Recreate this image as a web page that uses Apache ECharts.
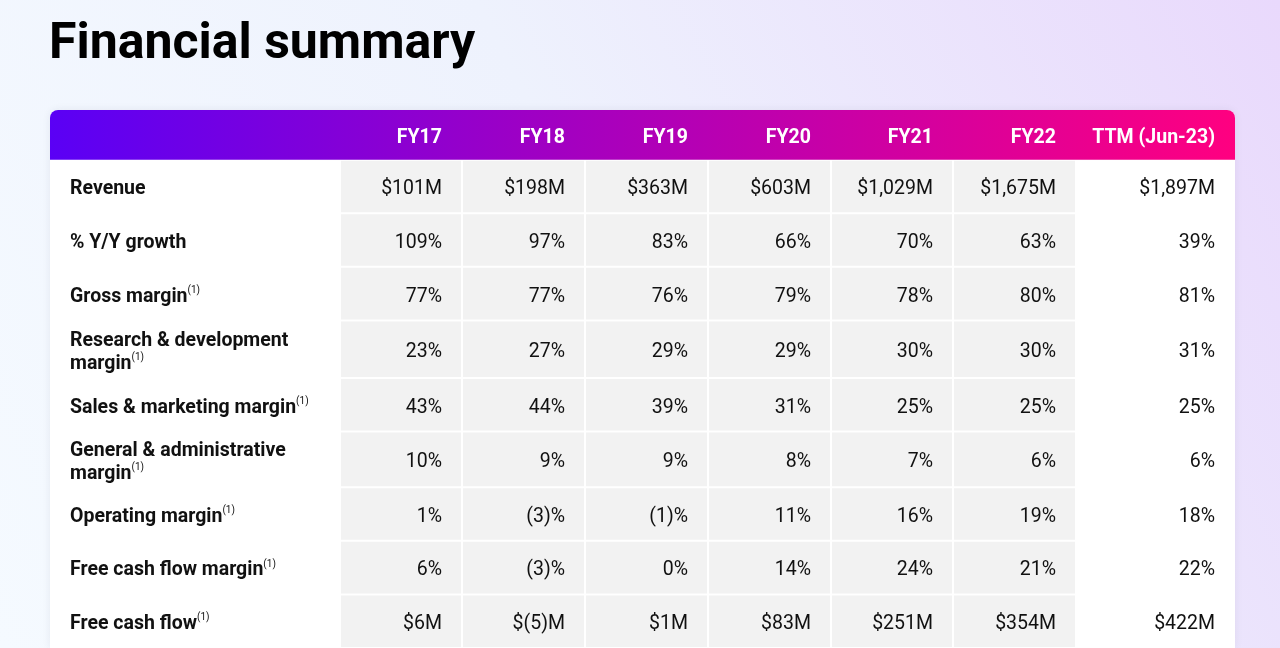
<!DOCTYPE html>
<html>
<head>
<meta charset="utf-8">
<script src="https://cdn.jsdelivr.net/npm/echarts@6/dist/echarts.min.js"></script>
<style>
html,body{margin:0;padding:0;background:#f1f5fd;}
#c{width:1280px;height:648px;}
</style>
</head>
<body>
<div id="c"></div>
<script>
// ---------- data ----------
const periods = ['FY17', 'FY18', 'FY19', 'FY20', 'FY21', 'FY22', 'TTM (Jun-23)'];
const metrics = ['Revenue', '% Y/Y growth', 'Gross margin', 'Research & development\nmargin',
  'Sales & marketing margin', 'General & administrative\nmargin', 'Operating margin',
  'Free cash flow margin', 'Free cash flow'];
const footnoted = [false, false, true, true, true, true, true, true, true];
const units = ['money', 'pct', 'pct', 'pct', 'pct', 'pct', 'pct', 'pct', 'money'];
const revenue = [101, 198, 363, 603, 1029, 1675, 1897];
const yoyGrowth = [109, 97, 83, 66, 70, 63, 39];
const grossMargin = [77, 77, 76, 79, 78, 80, 81];
const rdMargin = [23, 27, 29, 29, 30, 30, 31];
const smMargin = [43, 44, 39, 31, 25, 25, 25];
const gaMargin = [10, 9, 9, 8, 7, 6, 6];
const operatingMargin = [1, -3, -1, 11, 16, 19, 18];
const fcfMargin = [6, -3, 0, 14, 24, 21, 22];
const freeCashFlow = [6, -5, 1, 83, 251, 354, 422];
const rowsValues = [revenue, yoyGrowth, grossMargin, rdMargin, smMargin, gaMargin, operatingMargin, fcfMargin, freeCashFlow];

// ---------- layout (styling, not data) ----------
const colWidths = [290, 122, 123, 123, 123, 122, 123, 159];
const rowHeights = [50, 54, 54, 54, 58, 54, 56, 54, 54, 54];
const colEdges = [0]; colWidths.forEach(w => colEdges.push(colEdges[colEdges.length - 1] + w));
const rowEdges = [0]; rowHeights.forEach(h => rowEdges.push(rowEdges[rowEdges.length - 1] + h));
const tableW = colEdges[colEdges.length - 1];
const tableH = rowEdges[rowEdges.length - 1];
const FONT = 'Roboto';

function fmt(v, unit) {
  const a = Math.abs(v).toLocaleString('en-US');
  if (unit === 'money') return v < 0 ? '$(' + a + ')M' : '$' + a + 'M';
  return v < 0 ? '(' + a + ')%' : a + '%';
}

function rectOf(api, c0, r0, c1, r1) {
  const p0 = api.coord([colEdges[c0], rowEdges[r0]]);
  const p1 = api.coord([colEdges[c1], rowEdges[r1]]);
  return { x: p0[0], y: p0[1], width: p1[0] - p0[0], height: p1[1] - p0[1] };
}

// cells data: [col, row]  (row 0 = header)
const cellData = [];
for (let r = 1; r <= metrics.length; r++) for (let c = 0; c <= periods.length; c++) cellData.push([c, r]);
const headerData = periods.map((p, i) => [i + 1, 0]);

const chart = echarts.init(document.getElementById('c'), null, { renderer: 'canvas' });

const option = {
  animation: false,
  backgroundColor: 'transparent',
  graphic: [{
    type: 'rect', z: -100, silent: true,
    shape: { x: 0, y: 0, width: 1280, height: 648 },
    style: {
      fill: new echarts.graphic.LinearGradient(0, 1, 1, 0, [
        { offset: 0, color: '#f5faff' },
        { offset: 0.5, color: '#eef2fd' },
        { offset: 1, color: '#e9d9fc' }
      ])
    }
  }],
  title: {
    text: 'Financial summary', left: 49, top: 20, padding: 0,
    textStyle: { fontFamily: FONT, fontWeight: 'bold', fontSize: 50, color: '#000' }
  },
  grid: { left: 50, top: 110, width: tableW, height: tableH },
  xAxis: { type: 'value', min: 0, max: tableW, show: false },
  yAxis: { type: 'value', min: 0, max: tableH, inverse: true, show: false },
  series: [
    {
      type: 'custom', name: 'table', data: [[0, 0]], silent: true, z: 1,
      renderItem: function (params, api) {
        const all = rectOf(api, 0, 0, colWidths.length, rowHeights.length);
        const head = rectOf(api, 0, 0, colWidths.length, 1);
        return {
          type: 'group', children: [
            { type: 'rect', shape: Object.assign({ r: [8, 8, 0, 0] }, all),
              style: { fill: '#ffffff', shadowBlur: 8, shadowColor: 'rgba(40,40,80,0.08)' } },
            { type: 'rect', shape: Object.assign({ r: [8, 8, 0, 0] }, head),
              style: { fill: new echarts.graphic.LinearGradient(0, 0, 1, 0, [
                { offset: 0, color: '#5a00f5' },
                { offset: 0.5, color: '#ae00b9' },
                { offset: 1, color: '#ff0080' }
              ]) } }
          ]
        };
      }
    },
    {
      type: 'custom', name: 'header', data: headerData, silent: true, z: 3,
      renderItem: function (params, api) {
        const c = api.value(0);
        const rc = rectOf(api, c, 0, c + 1, 1);
        return {
          type: 'text',
          style: {
            text: periods[c - 1], x: rc.x + rc.width - 20, y: rc.y + rc.height / 2 + 3,
            align: 'right', verticalAlign: 'middle', fill: '#ffffff',
            font: 'bold 19.5px ' + FONT
          }
        };
      }
    },
    {
      type: 'custom', name: 'cells', data: cellData, silent: true, z: 2,
      renderItem: function (params, api) {
        const c = api.value(0), r = api.value(1);
        const rc = rectOf(api, c, r, c + 1, r + 1);
        const children = [];
        if (c >= 1 && c <= 6) {
          children.push({ type: 'rect', shape: { x: rc.x + 1, y: rc.y + 1, width: rc.width - 2, height: rc.height - 2 },
            style: { fill: '#f2f2f2' } });
        }
        const cy = rc.y + rc.height / 2;
        if (c === 0) {
          const lines = metrics[r - 1].split('\n');
          const txt = lines.map((l, i) => '{b|' + l + '}' + (i === lines.length - 1 && footnoted[r - 1] ? '{s|(1)}' : '')).join('\n');
          children.push({
            type: 'text',
            style: {
              text: txt, x: rc.x + 20, y: cy + 3, align: 'left', verticalAlign: 'middle',
              rich: {
                b: { fontFamily: FONT, fontWeight: 'bold', fontSize: 19.5, lineHeight: 23, fill: '#111111' },
                s: { fontFamily: FONT, fontSize: 10, lineHeight: 23, verticalAlign: 'top', fill: '#111111' }
              }
            }
          });
        } else {
          children.push({
            type: 'text',
            style: {
              text: fmt(rowsValues[r - 1][c - 1], units[r - 1]), x: rc.x + rc.width - 20, y: cy + 3,
              align: 'right', verticalAlign: 'middle', fill: '#111111', font: '19.5px ' + FONT
            }
          });
        }
        return { type: 'group', children: children };
      }
    }
  ]
};
chart.setOption(option);
</script>
</body>
</html>
